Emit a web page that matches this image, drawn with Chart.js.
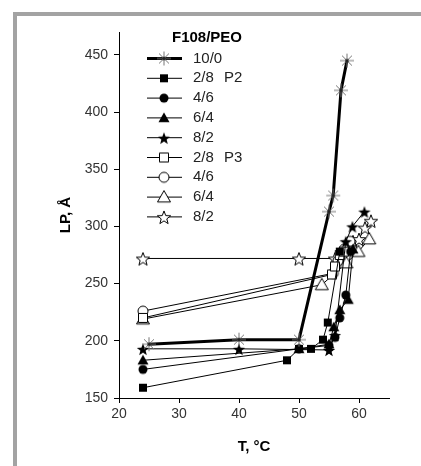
<!DOCTYPE html>
<html>
<head>
<meta charset="utf-8">
<script src="https://cdn.jsdelivr.net/npm/chart.js@4"></script>
<style>
html, body { margin: 0; padding: 0; background: #fff; }
</style>
</head>
<body>
<canvas id="myChart" width="421" height="466"></canvas>
<script>
// tick labels
const xTicks = [20, 30, 40, 50, 60];
const yTicks = [150, 200, 250, 300, 350, 400, 450];

// legend text
const legendTitle = 'F108/PEO';
const labels = ['10/0', '2/8', '4/6', '6/4', '8/2', '2/8', '4/6', '6/4', '8/2'];
const notes = ['', 'P2', '', '', '', 'P3', '', '', ''];

// series (T in °C, LP in Å)
const t100 = [25, 40, 50, 55, 55.7, 57, 58];
const lp100 = [197, 201, 201, 313, 327, 419, 445];

const t28p2 = [24, 48, 50, 52, 54, 54.8, 56.8];
const lp28p2 = [159, 183, 193, 193, 201, 216, 278];

const t46p2 = [24, 50, 55, 56, 56.8, 57.8, 58.6];
const lp46p2 = [175, 193, 196, 203, 220, 240, 278];

const t64p2 = [24, 50, 55, 55.8, 56.8, 58.2, 59];
const lp64p2 = [183, 193, 197, 212, 227, 236, 280];

const t82p2 = [24, 40, 55, 56, 57.8, 58.9, 60.9];
const lp82p2 = [193, 193, 192, 205, 287, 300, 313];

const t28p3 = [24, 55.5, 56, 56.8, 57.5];
const lp28p3 = [220, 258, 265, 275, 278];

const t46p3 = [24, 55.7, 56.5, 57.5, 58.5];
const lp46p3 = [226, 259, 270, 280, 287];

const t64p3 = [24, 53.8, 57.9, 59.9, 61.7];
const lp64p3 = [219, 249, 268, 278, 289];

const t82p3 = [24, 50, 56, 59, 60, 61, 62];
const lp82p3 = [272, 272, 272, 287, 289, 299, 305];

function makeMarker(shape, filled) {
    let c = document.createElement('canvas');
    c.width = 16; c.height = 16;
    let g = c.getContext('2d');
    let m = 8;
    g.fillStyle = filled ? '#000' : '#fff';
    g.strokeStyle = '#000';
    g.lineWidth = 1;
    g.beginPath();
    if (shape == 'asterisk') {
        g.strokeStyle = '#777';
        for (let i = 0; i < 4; i++) {
            let a = i * Math.PI / 4;
            g.moveTo(m - 7 * Math.cos(a), m - 7 * Math.sin(a));
            g.lineTo(m + 7 * Math.cos(a), m + 7 * Math.sin(a));
        }
        g.stroke();
        g.fillStyle = '#222';
        g.fillRect(m - 1.5, m - 1.5, 3, 3);
        return c;
    }
    if (shape == 'square') {
        let h = filled ? 4 : 4.5;
        g.rect(m - h, m - h, 2 * h, 2 * h);
    } else if (shape == 'circle') {
        g.arc(m, m, filled ? 4.5 : 5, 0, Math.PI * 2);
    } else if (shape == 'triangle') {
        let r = filled ? 5.5 : 6.5;
        g.moveTo(m, m - r);
        g.lineTo(m + r, m + r * 0.75);
        g.lineTo(m - r, m + r * 0.75);
        g.closePath();
    } else if (shape == 'star') {
        let ro = filled ? 6.5 : 7, ri = ro * 0.42;
        for (let i = 0; i < 10; i++) {
            let r = i % 2 ? ri : ro;
            let a = -Math.PI / 2 + i * Math.PI / 5;
            let px = m + r * Math.cos(a), py = m + 1 + r * Math.sin(a);
            if (i == 0) g.moveTo(px, py); else g.lineTo(px, py);
        }
        g.closePath();
    }
    g.fill();
    if (!filled) g.stroke();
    return c;
}

const markers = [
    makeMarker('asterisk', true),
    makeMarker('square', true),
    makeMarker('circle', true),
    makeMarker('triangle', true),
    makeMarker('star', true),
    makeMarker('square', false),
    makeMarker('circle', false),
    makeMarker('triangle', false),
    makeMarker('star', false)
];

const seriesT = [t100, t28p2, t46p2, t64p2, t82p2, t28p3, t46p3, t64p3, t82p3];
const seriesLP = [lp100, lp28p2, lp46p2, lp64p2, lp82p2, lp28p3, lp46p3, lp64p3, lp82p3];

let datasets = [];
for (let i = 0; i < seriesT.length; i++) {
    datasets.push({
        label: labels[i],
        data: seriesT[i].map((t, k) => ({x: t, y: seriesLP[i][k]})),
        showLine: true,
        borderColor: '#000',
        borderWidth: i == 0 ? 3 : 1,
        pointStyle: markers[i],
        pointRadius: 7,
        tension: 0
    });
}

const framePlugin = {
    id: 'frame',
    beforeDraw(chart) {
        let ctx = chart.ctx;
        ctx.save();
        ctx.fillStyle = '#a3a3a3';
        ctx.fillRect(13, 12, 421 - 13, 4);
        ctx.fillRect(13, 12, 4, 466 - 12);
        ctx.restore();
    }
};

const legendPlugin = {
    id: 'innerLegend',
    afterDraw(chart) {
        let ctx = chart.ctx;
        ctx.save();
        ctx.fillStyle = '#000';
        ctx.font = 'bold 15px "Liberation Sans", Arial, sans-serif';
        ctx.textAlign = 'center';
        ctx.textBaseline = 'middle';
        ctx.fillText(legendTitle, 207, 38);
        ctx.font = '15px "Liberation Sans", Arial, sans-serif';
        ctx.textAlign = 'left';
        for (let i = 0; i < labels.length; i++) {
            let y = 58.5 + i * 19.8;
            ctx.strokeStyle = '#000';
            ctx.lineWidth = i == 0 ? 3 : 1;
            ctx.beginPath();
            ctx.moveTo(147, y);
            ctx.lineTo(182, y);
            ctx.stroke();
            ctx.drawImage(markers[i], 164 - 8, y - 8);
            ctx.fillStyle = '#222';
            ctx.fillText(labels[i], 193, y);
            if (notes[i]) ctx.fillText(notes[i], 224, y);
        }
        ctx.restore();
    }
};

const tickFont = {family: '"Liberation Sans", Arial, sans-serif', size: 14};
const titleFont = {family: '"Liberation Sans", Arial, sans-serif', size: 15, weight: 'bold'};

let myChart = new Chart(document.getElementById('myChart').getContext('2d'), {
    type: 'scatter',
    data: {datasets: datasets},
    options: {
        responsive: false,
        devicePixelRatio: 1,
        animation: false,
        layout: {padding: {left: 0, right: 32, top: 32, bottom: 0}},
        plugins: {legend: {display: false}, tooltip: {enabled: false}},
        scales: {
            x: {
                type: 'linear',
                min: 20, max: 65,
                afterBuildTicks: s => { s.ticks = xTicks.map(v => ({value: v})); },
                afterFit: s => { s.height = 68; },
                grid: {drawOnChartArea: false, drawTicks: true, tickLength: 5, color: '#000', tickColor: '#000'},
                border: {display: true, color: '#000', width: 1},
                ticks: {font: tickFont, color: '#333', padding: 3, maxRotation: 0, autoSkip: false},
                title: {display: true, text: 'T, °C', font: titleFont, color: '#000', padding: {top: 0, bottom: 10}}
            },
            y: {
                type: 'linear',
                min: 150, max: 470,
                afterBuildTicks: s => { s.ticks = yTicks.map(v => ({value: v})); },
                afterFit: s => { s.width = 119; },
                grid: {drawOnChartArea: false, drawTicks: true, tickLength: 5, color: '#000', tickColor: '#000'},
                border: {display: true, color: '#000', width: 1},
                ticks: {font: tickFont, color: '#333', padding: 6, autoSkip: false},
                title: {display: true, text: 'LP, Å', font: titleFont, color: '#000', padding: {top: 57, bottom: 0}}
            }
        }
    },
    plugins: [framePlugin, legendPlugin]
});
</script>
</body>
</html>
